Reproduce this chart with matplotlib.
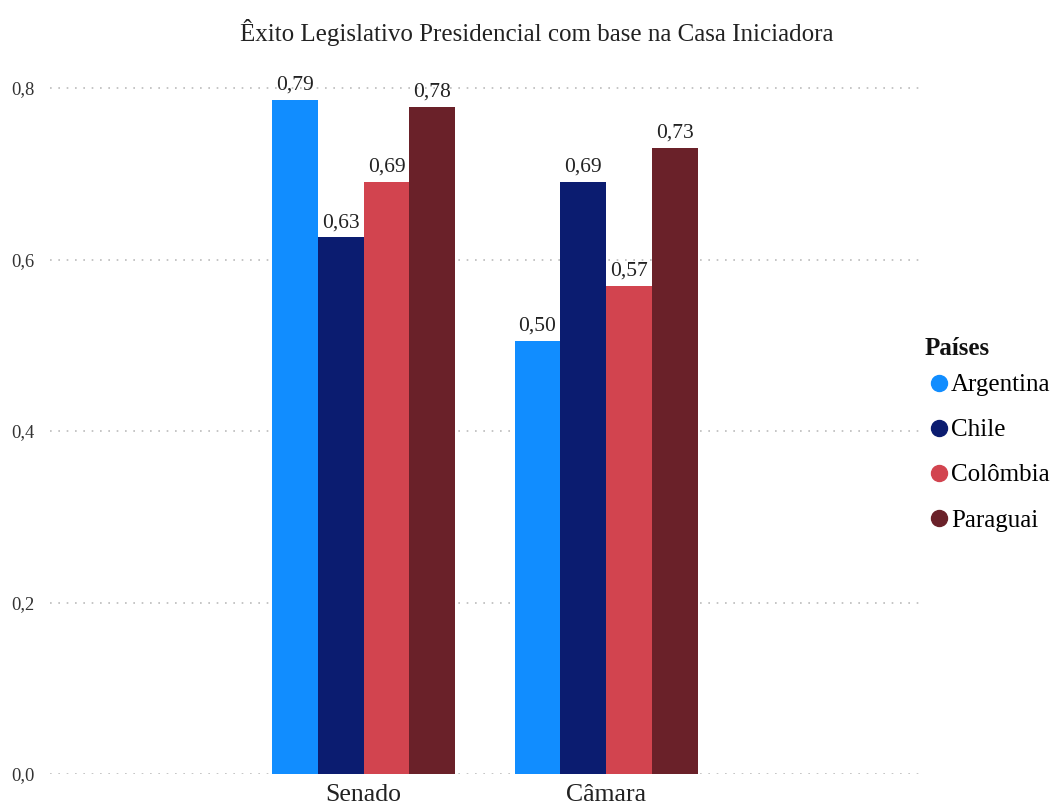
import numpy as np
import matplotlib
matplotlib.use("Agg")
import matplotlib.pyplot as plt
from matplotlib.lines import Line2D

plt.rcParams['font.family'] = ['Liberation Serif', 'DejaVu Serif']

casas = ['Senado', 'Câmara']
paises = ['Argentina', 'Chile', 'Colômbia', 'Paraguai']
argentina = [0.786, 0.505]
chile = [0.626, 0.691]
colombia = [0.691, 0.569]
paraguai = [0.778, 0.730]
rotulos = [['0,79', '0,50'], ['0,63', '0,69'], ['0,69', '0,57'], ['0,78', '0,73']]
cores = ['#118DFF', '#0B1C70', '#D2444F', '#6A2129']
yticks = [0.0, 0.2, 0.4, 0.6, 0.8]
ytick_labels = ['0,0', '0,2', '0,4', '0,6', '0,8']

series = [argentina, chile, colombia, paraguai]

fig = plt.figure(figsize=(10.51, 8.06), dpi=100)
ax = fig.add_axes([50 / 1051, 32 / 806, 875 / 1051, 714 / 806])

x = np.arange(len(casas))
width = 0.1887
for i, (vals, cor) in enumerate(zip(series, cores)):
    pos = x + (i - 1.5) * width
    ax.bar(pos, vals, width=width, color=cor, zorder=2)
    for px, v, lab in zip(pos, vals, rotulos[i]):
        ax.text(px, v + 0.006, lab, ha='center', va='bottom', fontsize=15.5,
                color='#222222')

ax.set_xlim(-1.293, 2.315)
ax.set_ylim(0, 0.8327)
ax.set_yticks(yticks)
ax.set_yticklabels(ytick_labels, fontsize=13.3, color='#333333')
ax.set_xticks(x)
ax.set_xticklabels(casas, fontsize=18.5, color='#222222')
ax.tick_params(axis='both', length=0)
ax.tick_params(axis='y', pad=11)
ax.tick_params(axis='x', pad=7.5)
for s in ax.spines.values():
    s.set_visible(False)
ax.grid(axis='y', linestyle=(0, (1, 4)), color='#BBBBBB', linewidth=1.2, zorder=0)

fig.text(537 / 1051, 1 - 33 / 806, 'Êxito Legislativo Presidencial com base na Casa Iniciadora',
         ha='center', va='center', fontsize=18, color='#222222')

# legend title drawn separately to control its gap to the entries
fig.text(925 / 1051, 1 - 348 / 806, 'Países', ha='left', va='center',
         fontsize=18, fontweight='bold', color='#111111')
handles = [Line2D([], [], marker='o', linestyle='none', markersize=11.5,
                  markerfacecolor=c, markeredgecolor=c) for c in cores]
leg = fig.legend(handles, paises, loc='upper left', bbox_to_anchor=(921 / 1051, 1 - 369 / 806),
                 frameon=False, fontsize=18, handletextpad=0.0,
                 labelspacing=0.9, handlelength=1.0, borderaxespad=0, borderpad=0.2)

fig.savefig('out.png', dpi=100)
